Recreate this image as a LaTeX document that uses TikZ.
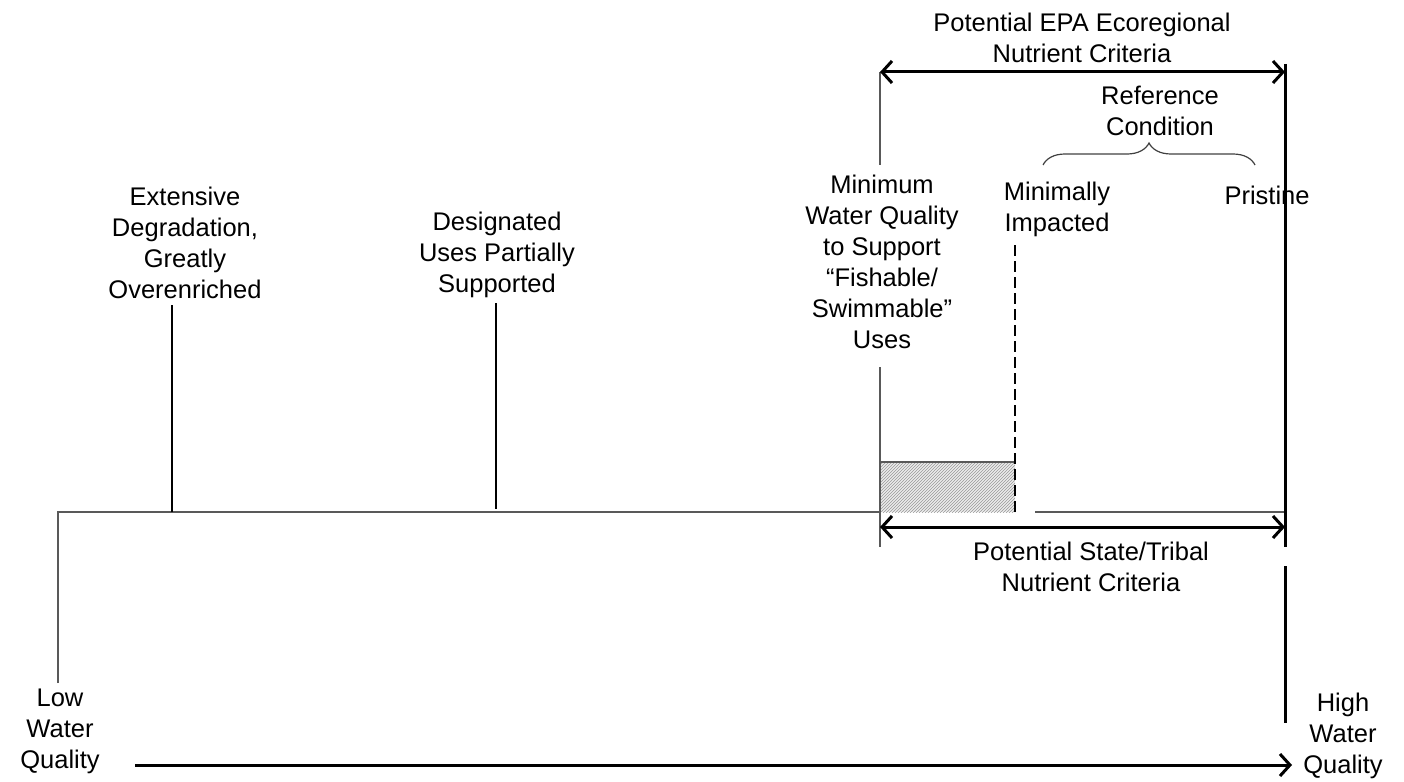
\documentclass[tikz,border=0pt]{standalone}
\usepackage{fontspec}
\setmainfont{Liberation Sans}
\usetikzlibrary{arrows.meta,patterns,decorations.pathreplacing,positioning}

\tikzset{
  lbl/.style={font=\fontsize{25.5}{31}\selectfont, align=center, inner sep=0pt},
  tick/.style={line width=2.5pt},
  thinline/.style={line width=1.3pt, black!65},
  span/.style={line width=3pt, {Straight Barb[length=10pt,width=22pt]}-{Straight Barb[length=10pt,width=22pt]}},
}

\begin{document}
\begin{tikzpicture}[x=1pt,y=-1pt]
    \useasboundingbox (0,0) rectangle (1404,781);

    % Labels along the scale
    \node[lbl] (ext) at (185,243) {Extensive\\Degradation,\\Greatly\\Overenriched};
    \node[lbl] (desig) at (497,255) {Designated\\Uses Partially\\Supported};
    \node[lbl] (minimum) at (882,262) {Minimum\\Water Quality\\to Support\\“Fishable/\\Swimmable”\\Uses};
    \node[lbl] (minimal) at (1057,209) {Minimally\\Impacted};
    \node[lbl] (pristine) at (1267,195) {Pristine};
    \node[lbl] (refcond) at (1160,111) {Reference\\Condition};
    \node[lbl] (epa) at (1082,38) {Potential EPA Ecoregional\\Nutrient Criteria};
    \node[lbl] (state) at (1091,567) {Potential State/Tribal\\Nutrient Criteria};
    \node[lbl] (low) at (60,731) {Low\\Water\\Quality};
    \node[lbl] (high) at (1343,736) {High\\Water\\Quality};

    % Points on the scale
    \coordinate (baseL) at (58,512);
    \coordinate (lowTop) at (58,683);
    \coordinate (extTop) at (172,305);
    \coordinate (extBot) at (172,512);
    \coordinate (desTop) at (496,303);
    \coordinate (desBot) at (496,509);
    \coordinate (minTop) at (880,72);
    \coordinate (minUp) at (880,165);
    \coordinate (minDown) at (880,367);
    \coordinate (minBot) at (880,547);
    \coordinate (minBase) at (880,512);
    \coordinate (dashTop) at (1015,245);
    \coordinate (dashBot) at (1015,512);
    \coordinate (gapR) at (1035,512);
    \coordinate (hiTop) at (1285,64);
    \coordinate (hiMid) at (1285,547);
    \coordinate (hiLow) at (1285,566);
    \coordinate (hiBot) at (1285,723);
    \coordinate (hiBase) at (1285,512);
    \coordinate (arrL) at (135,765);
    \coordinate (arrR) at (1292,765);

    % Hatched band
    \fill[gray!15] (880,462) rectangle (dashBot);
    \fill[pattern=north east lines, pattern color=gray!80] (880,462) rectangle (dashBot);
    \draw[thinline] (880,462) -- (1015,462);

    % Base line and low end
    \draw[thinline] (lowTop) -- (baseL) -- (minBase);
    \draw[thinline] (gapR) -- (hiBase);

    % Ticks
    \draw[tick] (extTop) -- (extBot);
    \draw[tick] (desTop) -- (desBot);
    \draw[thinline] (minTop) -- (minUp);
    \draw[thinline] (minDown) -- (minBot);
    \draw[line width=2.8pt, dash pattern=on 11pt off 5pt] (dashTop) -- (dashBot);
    \draw[line width=3pt] (hiTop) -- (hiMid);
    \draw[line width=3pt] (hiLow) -- (hiBot);

    % Criteria ranges
    \draw[span] (minTop) -- (1285,72);
    \draw[span] (880,527) -- (1285,527);

    % Reference condition brace
    \draw[line width=1.2pt, black!75, decorate, decoration={brace, amplitude=22pt}] (1043,165) -- (1255,165);

    % Quality axis
    \draw[line width=3pt, -{Straight Barb[length=10pt,width=22pt]}] (arrL) -- (arrR);
\end{tikzpicture}
\end{document}
